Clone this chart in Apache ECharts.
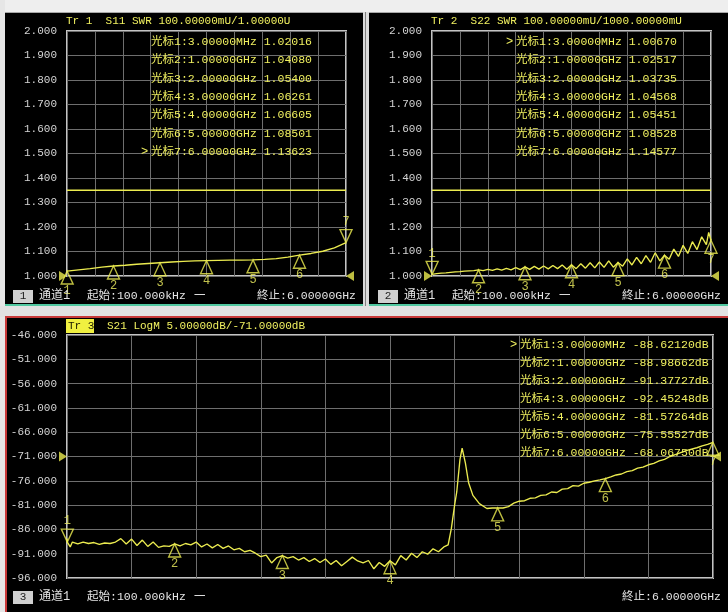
<!DOCTYPE html>
<html>
<head>
<meta charset="utf-8">
<script src="https://cdn.jsdelivr.net/npm/echarts@6/dist/echarts.min.js"></script>
<style>
html,body{margin:0;padding:0;background:#000;}
#c{width:728px;height:612px;}
</style>
</head>
<body>
<div id="c"></div>
<script>
// ---------------- DATA ----------------
const markerFreqs = [0.003, 1, 2, 3, 4, 5, 6];
const markerFreqText = ['3.00000MHz','1.00000GHz','2.00000GHz','3.00000GHz','4.00000GHz','5.00000GHz','6.00000GHz'];
const markerNames = ['1','2','3','4','5','6','7'];

const s11Markers = [1.02016, 1.04080, 1.05400, 1.06261, 1.06605, 1.08501, 1.13623];
const s22Markers = [1.00670, 1.02517, 1.03735, 1.04568, 1.05451, 1.08528, 1.14577];
const s21Markers = [-88.62120, -88.98662, -91.37727, -92.45248, -81.57264, -75.55527, -68.06750];

const s11Freq = [0.0001,0.25,0.5,0.75,1,1.25,1.5,1.75,2,2.25,2.5,2.75,3,3.25,3.5,3.75,4,4.25,4.5,4.75,5,5.25,5.5,5.75,6];
const s11Vals = [1.020,1.025,1.030,1.036,1.041,1.044,1.048,1.051,1.054,1.057,1.060,1.062,1.063,1.064,1.065,1.065,1.066,1.068,1.071,1.077,1.085,1.092,1.101,1.115,1.136];

const s22Freq = [0.0001,0.1,0.2,0.3,0.4,0.5,0.6,0.7,0.8,0.9,1.0,1.1,1.2,1.3,1.4,1.5,1.6,1.7,1.8,1.9,2.0,2.1,2.2,2.3,2.4,2.5,2.6,2.7,2.8,2.9,3.0,3.1,3.2,3.3,3.4,3.5,3.6,3.7,3.8,3.9,4.0,4.1,4.2,4.3,4.4,4.5,4.6,4.7,4.8,4.9,5.0,5.1,5.2,5.3,5.4,5.5,5.6,5.7,5.8,5.9,5.95,6.0];
const s22Vals = [1.0067,1.010,1.012,1.013,1.015,1.017,1.018,1.020,1.021,1.022,1.025,1.022,1.027,1.023,1.029,1.024,1.031,1.025,1.034,1.026,1.037,1.027,1.039,1.028,1.041,1.029,1.043,1.030,1.045,1.028,1.046,1.030,1.050,1.032,1.054,1.033,1.057,1.035,1.062,1.036,1.055,1.040,1.070,1.045,1.076,1.050,1.083,1.056,1.095,1.062,1.085,1.068,1.110,1.080,1.125,1.092,1.140,1.108,1.160,1.128,1.178,1.146];

const s21Freq = [0.0001,0.003,0.03,0.05,0.10,0.15,0.20,0.25,0.30,0.35,0.40,0.45,0.50,0.55,0.60,0.65,0.70,0.75,0.80,0.85,0.90,0.95,1.00,1.05,1.10,1.15,1.20,1.25,1.30,1.35,1.40,1.45,1.50,1.55,1.60,1.65,1.70,1.75,1.80,1.85,1.90,1.95,2.00,2.05,2.10,2.15,2.20,2.25,2.30,2.35,2.40,2.45,2.50,2.55,2.60,2.65,2.70,2.75,2.80,2.85,2.90,2.95,3.00,3.05,3.10,3.15,3.20,3.25,3.30,3.35,3.40,3.45,3.50,3.54,3.57,3.60,3.62,3.65,3.67,3.70,3.73,3.77,3.83,3.90,3.95,4.00,4.05,4.10,4.15,4.20,4.25,4.30,4.35,4.40,4.45,4.50,4.55,4.60,4.65,4.70,4.75,4.80,4.85,4.90,4.95,5.00,5.05,5.10,5.15,5.20,5.25,5.30,5.35,5.40,5.45,5.50,5.55,5.60,5.65,5.70,5.75,5.80,5.85,5.90,5.95,6.00];
const s21Vals = [-87.9,-88.6,-89.6,-88.6,-89.0,-88.6,-88.9,-88.7,-89.1,-88.8,-88.9,-88.6,-87.9,-89.0,-88.0,-89.3,-88.2,-89.5,-88.6,-89.7,-89.4,-89.5,-88.99,-89.4,-88.9,-89.2,-88.6,-89.6,-89.0,-89.8,-89.1,-89.9,-89.4,-90.2,-89.9,-90.6,-90.3,-90.9,-91.6,-91.3,-92.9,-91.8,-91.38,-91.9,-91.6,-92.3,-91.8,-92.6,-92.0,-92.8,-92.1,-93.2,-92.4,-93.5,-92.6,-91.7,-92.5,-92.9,-92.4,-94.1,-92.8,-93.6,-92.45,-93.3,-91.4,-92.3,-90.9,-91.8,-90.6,-91.1,-90.0,-90.6,-89.6,-89.2,-85.8,-81.0,-78.3,-71.6,-69.3,-72.3,-76.4,-79.0,-80.7,-81.7,-81.6,-81.57,-81.6,-81.3,-80.6,-80.2,-80.1,-79.6,-79.5,-79.0,-78.9,-78.3,-78.4,-77.7,-77.6,-77.0,-77.1,-76.5,-76.3,-76.0,-75.8,-75.56,-75.2,-74.8,-74.6,-74.1,-73.9,-73.4,-73.2,-72.7,-72.4,-71.9,-71.6,-71.0,-70.6,-70.2,-69.8,-69.5,-69.2,-68.8,-68.5,-68.07];

const swrLimit = 1.35;
const swrRef = 1.0;
const s21Ref = -71;

const headerA = 'Tr 1  S11 SWR 100.00000mU/1.00000U';
const headerB = 'Tr 2  S22 SWR 100.00000mU/1000.00000mU';
const headerCTag = 'Tr 3';
const headerC = 'S21 LogM 5.00000dB/-71.00000dB';
const chanText = '通道1';
const startText = '起始:100.000kHz';
const dashText = '一';
const stopText = '終止:6.00000GHz';

// ---------------- STYLE ----------------
const Y = '#ecec50';
const TY = '#f0f060';
const LG = '#d4d4d4';
const FONT = "'Liberation Mono', 'Noto Sans CJK SC', monospace";
const UP = 'path://M6,0L12,13L0,13Z';
const DOWN = 'path://M0,0L12,0L6,13Z';
const RIGHT = 'path://M0,0L8,5L0,10Z';
const LEFT = 'path://M8,0L0,5L8,10Z';

function pairs(xs, ys) { return xs.map((x, i) => [x, ys[i]]); }

function txt(x, y, text, color, size, align) {
  return {
    type: 'text', x: x, y: y, z: 200,
    style: {
      text: text, fill: color, font: size + 'px ' + FONT,
      align: align || 'left', textAlign: align || 'left',
      verticalAlign: 'middle', textVerticalAlign: 'middle'
    }
  };
}
function rect(x, y, w, h, fill, z) {
  return { type: 'rect', z: z || 150, shape: { x: x, y: y, width: w, height: h }, style: { fill: fill } };
}

function markerSeries(idx, vals, activeIdx) {
  const up = [], down = [], labUp = [], labDown = [];
  markerFreqs.forEach((f, i) => {
    const d = { value: [f, vals[i]], name: markerNames[i] };
    if (i === activeIdx) { down.push(d); labDown.push(d); } else { up.push(d); labUp.push(d); }
  });
  const base = { type: 'scatter', xAxisIndex: idx, yAxisIndex: idx, silent: true, clip: false, animation: false, z: 5 };
  return [
    Object.assign({}, base, { data: up, symbol: UP, symbolSize: [12, 13], symbolOffset: [0, 6.5],
      itemStyle: { color: 'rgba(0,0,0,0)', borderColor: Y, borderWidth: 1.4 } }),
    Object.assign({}, base, { data: down, symbol: DOWN, symbolSize: [12, 13], symbolOffset: [0, -6.5],
      itemStyle: { color: 'rgba(0,0,0,0)', borderColor: Y, borderWidth: 1.4 } }),
    Object.assign({}, base, { data: labUp, symbolSize: 1, itemStyle: { color: 'rgba(0,0,0,0)' },
      label: { show: true, formatter: '{b}', position: 'inside', offset: [0, 20], color: TY, fontSize: 12, fontFamily: FONT } }),
    Object.assign({}, base, { data: labDown, symbolSize: 1, itemStyle: { color: 'rgba(0,0,0,0)' },
      label: { show: true, formatter: '{b}', position: 'inside', offset: [0, -21], color: TY, fontSize: 12, fontFamily: FONT } })
  ];
}
function refSeries(idx, v) {
  const base = { type: 'scatter', xAxisIndex: idx, yAxisIndex: idx, silent: true, clip: false, animation: false, z: 6,
    itemStyle: { color: Y } };
  return [
    Object.assign({}, base, { data: [[0, v]], symbol: RIGHT, symbolSize: [8, 10], symbolOffset: [-4, 0] }),
    Object.assign({}, base, { data: [[6, v]], symbol: LEFT, symbolSize: [8, 10], symbolOffset: [4, 0] })
  ];
}
function traceSeries(idx, xs, ys) {
  return { type: 'line', xAxisIndex: idx, yAxisIndex: idx, data: pairs(xs, ys), showSymbol: false, silent: true,
    lineStyle: { color: Y, width: 1.35 }, animation: false, z: 4 };
}

const gridStyle = { show: true, borderColor: '#c4c4c4', borderWidth: 2, backgroundColor: 'transparent' };
const grids = [
  Object.assign({ left: 67, top: 31, width: 279, height: 245 }, gridStyle),
  Object.assign({ left: 432, top: 31, width: 279, height: 245 }, gridStyle),
  Object.assign({ left: 67, top: 335, width: 646, height: 243 }, gridStyle)
];
function xAx(i) {
  return { type: 'value', gridIndex: i, min: 0, max: 6, interval: 0.6,
    axisLine: { show: false }, axisTick: { show: false }, axisLabel: { show: false },
    splitLine: { show: true, lineStyle: { color: '#6e6e6e', width: 1 } } };
}
function yAx(i, min, max, interval) {
  return { type: 'value', gridIndex: i, min: min, max: max, interval: interval,
    axisLine: { show: false }, axisTick: { show: false },
    axisLabel: { show: true, color: LG, fontSize: 11, fontFamily: FONT, margin: 10,
      formatter: v => v.toFixed(3) },
    splitLine: { show: true, lineStyle: { color: '#6e6e6e', width: 1 } } };
}

// marker tables
const graphics = [];
function table(xArrow, xText, y0, dy, vals, activeIdx, suffix) {
  vals.forEach((v, i) => {
    const y = y0 + dy * i;
    if (i === activeIdx) graphics.push(txt(xArrow, y, '>', TY, 12));
    graphics.push(txt(xText, y, '光标' + markerNames[i] + ':' + markerFreqText[i] + ' ' + v.toFixed(5) + suffix, TY, 11.5));
  });
}
table(141, 151, 42, 18.3, s11Markers, 6, '');
table(506, 516, 42, 18.3, s22Markers, 0, '');
table(510, 520, 345, 18, s21Markers, 0, 'dB');

// frames / separators
graphics.push(rect(0, 0, 728, 12, '#eeeeee'));
graphics.push(rect(0, 12, 728, 1, '#a8a8a8'));
graphics.push(rect(0, 0, 5, 612, '#e6e6e6'));
graphics.push(rect(363, 12, 6, 294, '#dcdcdc'));
graphics.push(rect(365, 12, 1, 294, '#808080'));
graphics.push(rect(0, 306, 728, 11, '#e2e2e2'));
graphics.push(rect(5, 304, 358, 2, '#50c8a0'));
graphics.push(rect(369, 304, 359, 2, '#50c8a0'));
graphics.push(rect(5, 316, 723, 2, '#c83a3a'));
graphics.push(rect(5, 316, 2, 296, '#c83a3a'));

// headers
graphics.push(txt(66, 21, headerA, TY, 11));
graphics.push(txt(431, 21, headerB, TY, 11));
graphics.push(rect(66, 319, 28, 14, '#f0f040', 190));
graphics.push(txt(68, 326, headerCTag, '#202000', 11));
graphics.push(txt(107, 326, headerC, TY, 11));

// bottom strips
function strip(x0, y, num, stopRight) {
  graphics.push(rect(x0 + 8, y - 6, 20, 13, '#d0d0d0', 190));
  graphics.push(txt(x0 + 18, y, num, '#202020', 11, 'center'));
  graphics.push(txt(x0 + 34, y, chanText, '#e4e4e4', 12));
  graphics.push(txt(x0 + 82, y, startText, '#e4e4e4', 11.5));
  graphics.push(txt(x0 + 189, y, dashText, '#e4e4e4', 11.5));
  graphics.push(txt(stopRight, y, stopText, '#e4e4e4', 11.5, 'right'));
}
strip(5, 296, '1', 356);
strip(370, 296, '2', 721);
strip(5, 597, '3', 721);

const series = [].concat(
  [traceSeries(0, s11Freq, s11Vals),
   { type: 'line', xAxisIndex: 0, yAxisIndex: 0, data: [[0, swrLimit], [6, swrLimit]], showSymbol: false, silent: true,
     lineStyle: { color: Y, width: 1.3 }, animation: false, z: 3 },
   traceSeries(1, s22Freq, s22Vals),
   { type: 'line', xAxisIndex: 1, yAxisIndex: 1, data: [[0, swrLimit], [6, swrLimit]], showSymbol: false, silent: true,
     lineStyle: { color: Y, width: 1.3 }, animation: false, z: 3 },
   traceSeries(2, s21Freq, s21Vals)],
  markerSeries(0, s11Markers, 6),
  markerSeries(1, s22Markers, 0),
  markerSeries(2, s21Markers, 0),
  refSeries(0, swrRef),
  refSeries(1, swrRef),
  refSeries(2, s21Ref)
);

const chart = echarts.init(document.getElementById('c'), null, { renderer: 'canvas' });
chart.setOption({
  backgroundColor: '#000000',
  animation: false,
  grid: grids,
  xAxis: [xAx(0), xAx(1), xAx(2)],
  yAxis: [yAx(0, 1, 2, 0.1), yAx(1, 1, 2, 0.1), yAx(2, -96, -46, 5)],
  series: series,
  graphic: { elements: graphics }
});
</script>
</body>
</html>
